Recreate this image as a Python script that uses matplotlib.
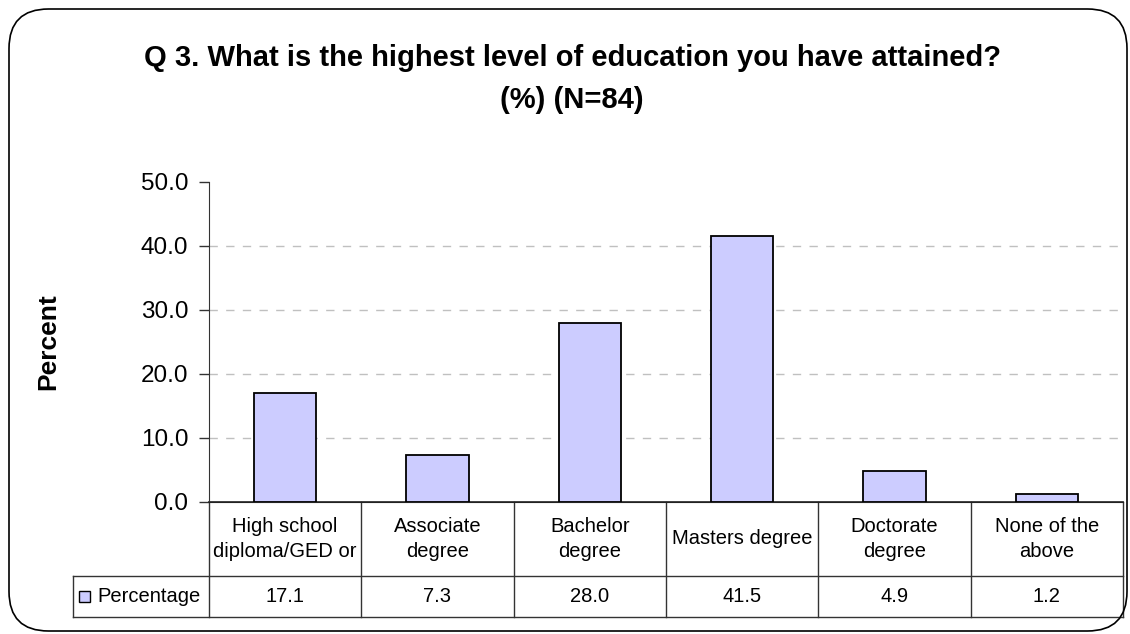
import matplotlib
matplotlib.use("Agg")
import matplotlib.pyplot as plt
from matplotlib.patches import FancyBboxPatch, Rectangle
from matplotlib.lines import Line2D
import matplotlib.transforms as mtransforms

plt.rcParams['font.family'] = ['Liberation Sans', 'DejaVu Sans']

categories = ["High school\ndiploma/GED or", "Associate\ndegree", "Bachelor\ndegree",
              "Masters degree", "Doctorate\ndegree", "None of the\nabove"]
values = [17.1, 7.3, 28.0, 41.5, 4.9, 1.2]
value_labels = ["17.1", "7.3", "28.0", "41.5", "4.9", "1.2"]
yticks = [0, 10, 20, 30, 40, 50]
series_name = "Percentage"
title = "Q 3. What is the highest level of education you have attained?\n(%) (N=84)"
ylabel = "Percent"

W, H = 1130, 634
fig = plt.figure(figsize=(W / 100, H / 100), dpi=100)

def fx(px):
    return px / W

def fy(py):
    return 1 - py / H

# outer rounded frame
frame = FancyBboxPatch((fx(9), fy(631)), fx(1127) - fx(9), fy(9) - fy(631),
                       boxstyle="round,pad=0,rounding_size=0.035",
                       transform=fig.transFigure, fill=False, ec="black", lw=1.2,
                       mutation_aspect=W / H)
fig.patches.append(frame)

ax_l, ax_r, ax_t, ax_b = 209, 1123, 182, 502
ax = fig.add_axes([fx(ax_l), fy(ax_b), fx(ax_r) - fx(ax_l), fy(ax_t) - fy(ax_b)])
n = len(categories)
x = [i + 0.5 for i in range(n)]
ax.bar(x, values, width=0.41, color="#ccccff", edgecolor="black", linewidth=1.3, zorder=3)
ax.set_xlim(0, n)
ax.set_ylim(0, 50)
ax.set_yticks(yticks)
ax.set_yticklabels([f"{v:.1f}" for v in yticks], fontsize=17.5)
ax.tick_params(axis="y", direction="out", length=7, width=1, pad=8, color="#333333")
ax.set_xticks([])
for s in ["top", "right"]:
    ax.spines[s].set_visible(False)
ax.spines["left"].set_color("#333333")
ax.spines["bottom"].set_color("#222222")
for v in yticks[1:-1]:
    ax.axhline(v, color="#c0c0c0", lw=1, ls=(0, (6, 6)), zorder=1)
ax.set_ylabel(ylabel, fontsize=19, fontweight="bold", labelpad=0)
ax.yaxis.set_label_coords((48 - ax_l) / (ax_r - ax_l), 0.5)
ax.yaxis.label.set_va("center")

# table below axes
ph = ax_b - ax_t
def ay(py):
    return (ax_b - py) / ph

trans = mtransforms.blended_transform_factory(ax.transData, ax.transAxes)
row1_y = ay(576)
row2_y = ay(617)
lc = "#333333"
# vertical lines
for i in range(n + 1):
    ax.add_line(Line2D([i, i], [0, row2_y], transform=trans, color=lc, lw=1, clip_on=False))
# legend cell left edge
leg_left = (73 - ax_l) / (ax_r - ax_l) * n
ax.add_line(Line2D([leg_left, leg_left], [row1_y, row2_y], transform=trans, color=lc, lw=1, clip_on=False))
# horizontal lines
ax.add_line(Line2D([leg_left, n], [row1_y, row1_y], transform=trans, color=lc, lw=1, clip_on=False))
ax.add_line(Line2D([leg_left, n], [row2_y, row2_y], transform=trans, color=lc, lw=1, clip_on=False))
ax.add_line(Line2D([0, n], [0, 0], transform=trans, color="#222222", lw=1.2, clip_on=False))

for i, (c, vl) in enumerate(zip(categories, value_labels)):
    ax.text(i + 0.5, (0 + row1_y) / 2, c, transform=trans, ha="center", va="center",
            fontsize=14.5, linespacing=1.45, clip_on=False)
    ax.text(i + 0.5, (row1_y + row2_y) / 2, vl, transform=trans, ha="center", va="center",
            fontsize=14.5, clip_on=False)

# legend key in table
sq = (90 - 79) / (ax_r - ax_l) * n
ax.add_patch(Rectangle((leg_left + (79 - 73) / (ax_r - ax_l) * n, ay(602)), sq, 11 / ph,
                       transform=trans, facecolor="#ccccff", edgecolor="black", lw=1, clip_on=False))
ax.text(leg_left + (97 - 73) / (ax_r - ax_l) * n, (row1_y + row2_y) / 2, series_name,
        transform=trans, ha="left", va="center", fontsize=14.5, clip_on=False)

fig.text(fx(572), fy(79), title, ha="center", va="center", fontsize=21,
         fontweight="bold", linespacing=1.6)

fig.savefig("out.png", dpi=100)
